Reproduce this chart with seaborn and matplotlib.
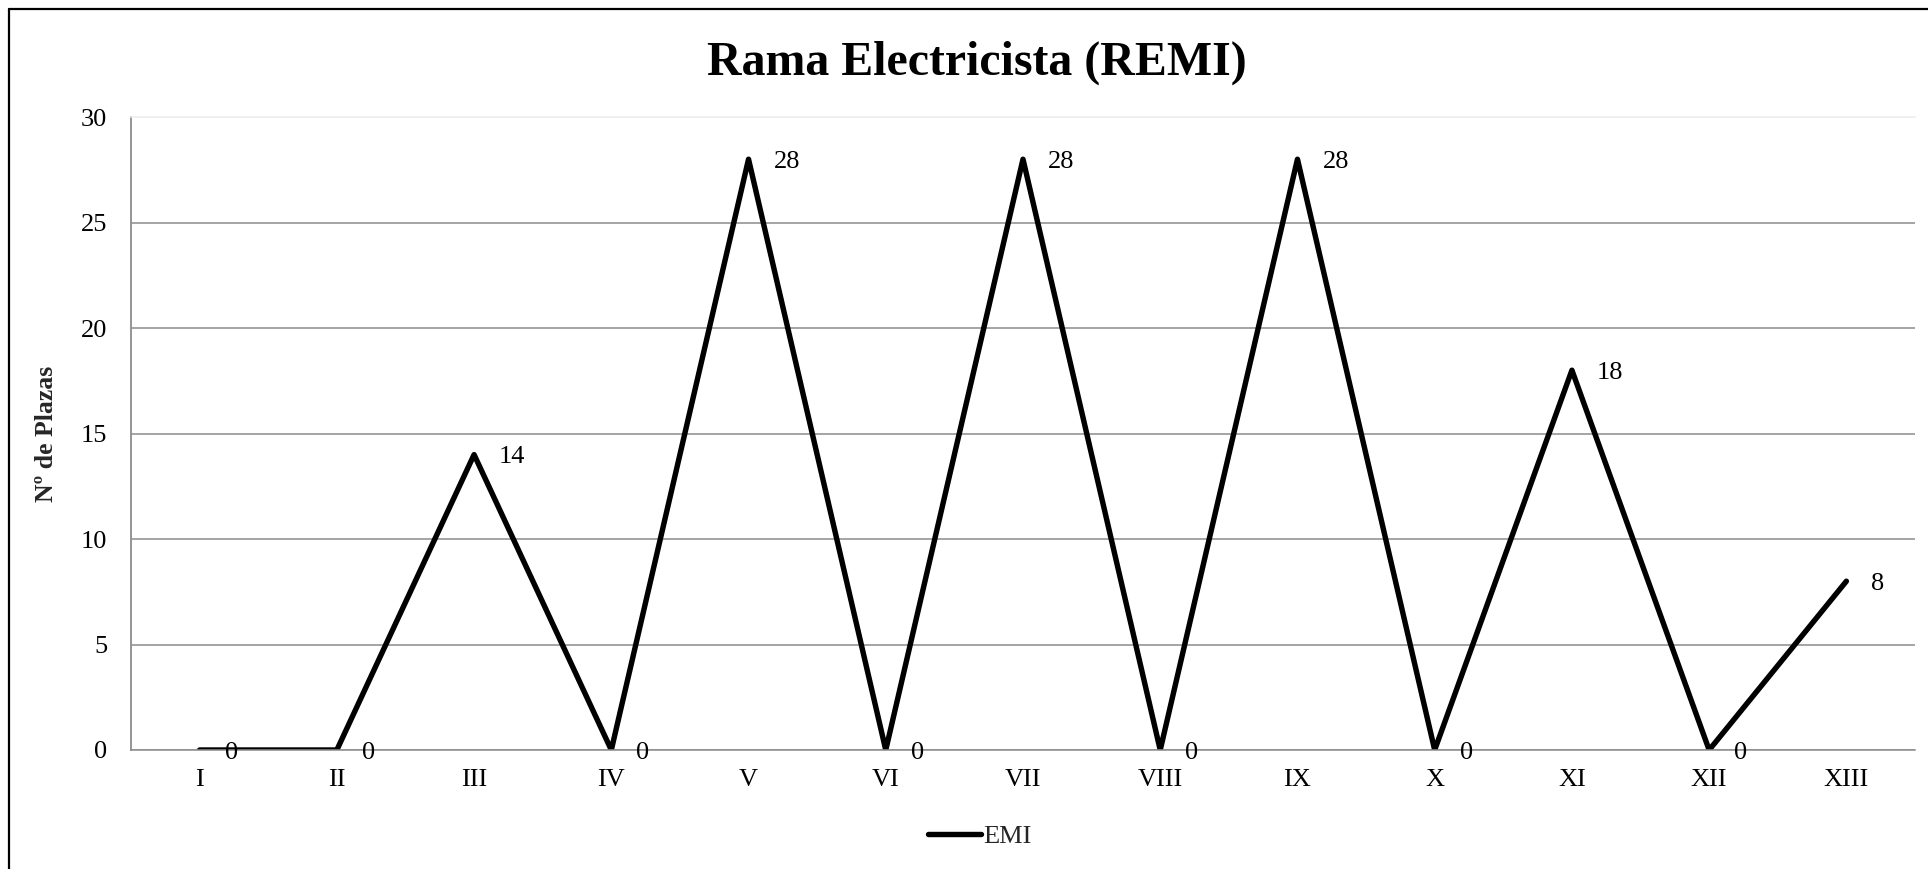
import matplotlib
matplotlib.use("Agg")
import matplotlib.pyplot as plt
import seaborn as sns
import pandas as pd
from matplotlib.lines import Line2D

categories = ["I", "II", "III", "IV", "V", "VI", "VII", "VIII", "IX", "X", "XI", "XII", "XIII"]
emi_values = [0, 0, 14, 0, 28, 0, 28, 0, 28, 0, 18, 0, 8]
series_name = "EMI"
y_ticks = [0, 5, 10, 15, 20, 25, 30]

sns.set_theme(style="white")
plt.rcParams["font.family"] = ["Liberation Serif", "DejaVu Serif"]

df = pd.DataFrame({"Categoria": categories, "Plazas": emi_values, "Serie": series_name})
df["pos"] = range(len(categories))

fig = plt.figure(figsize=(19.28, 8.69), dpi=100)
ax = fig.add_axes([131/1928, 1-750/869, (1915-131)/1928, (750-117)/869])

sns.lineplot(data=df, x="pos", y="Plazas", hue="Serie", palette=["black"],
             linewidth=3.9, sort=False, ax=ax, legend=False)

ax.set_xlim(-0.5, len(categories) - 0.5)
ax.set_ylim(0, 30)
ax.set_xticks(df["pos"])
ax.set_xticklabels(categories, fontsize=19)
ax.set_yticks(y_ticks)
ax.set_yticklabels([str(t) for t in y_ticks], fontsize=19)
ax.tick_params(axis="both", length=0, colors="black")
ax.tick_params(axis="x", pad=14)
ax.tick_params(axis="y", pad=17)

ax.yaxis.grid(True, color="#8c8c8c", linewidth=1.1)
ax.xaxis.grid(False)
gl = ax.get_ygridlines()
gl[-1].set_color("#eeeeee")
ax.set_axisbelow(True)

ax.spines["right"].set_visible(False)
ax.spines["top"].set_color("#eeeeee")
ax.spines["top"].set_linewidth(1.1)
ax.spines["left"].set_color("#8c8c8c")
ax.spines["left"].set_linewidth(1.3)
ax.spines["bottom"].set_color("#8c8c8c")
ax.spines["bottom"].set_linewidth(1.1)

ax.set_xlabel("")
ax.set_ylabel("Nº de Plazas", fontsize=18.5, fontweight="bold")
ax.yaxis.set_label_coords(-(131-58)/(1915-131), 0.5)

for i, v in zip(df["pos"], emi_values):
    ax.annotate(str(v), (i, v), xytext=(18, -2), textcoords="offset points",
                ha="left", va="center", fontsize=19, color="black")

fig.text(977/1928, 1-63/869, "Rama Electricista (REMI)", ha="center", va="center",
         fontsize=34.5, fontweight="bold", color="black")

handle = Line2D([], [], color="black", linewidth=3.9)
fig.legend([handle], [series_name], loc="center", bbox_to_anchor=(980/1928, 1-836/869),
           frameon=False, fontsize=19, handlelength=2.0, handletextpad=0.1, borderpad=0)

# partial outer border (top and left visible)
fig.add_artist(Line2D([9/1928, 1], [1-9/869, 1-9/869], color="black", linewidth=1.6,
                      transform=fig.transFigure))
fig.add_artist(Line2D([9/1928, 9/1928], [0, 1-9/869], color="black", linewidth=1.6,
                      transform=fig.transFigure))

fig.savefig("out.png", dpi=100, facecolor="white")
